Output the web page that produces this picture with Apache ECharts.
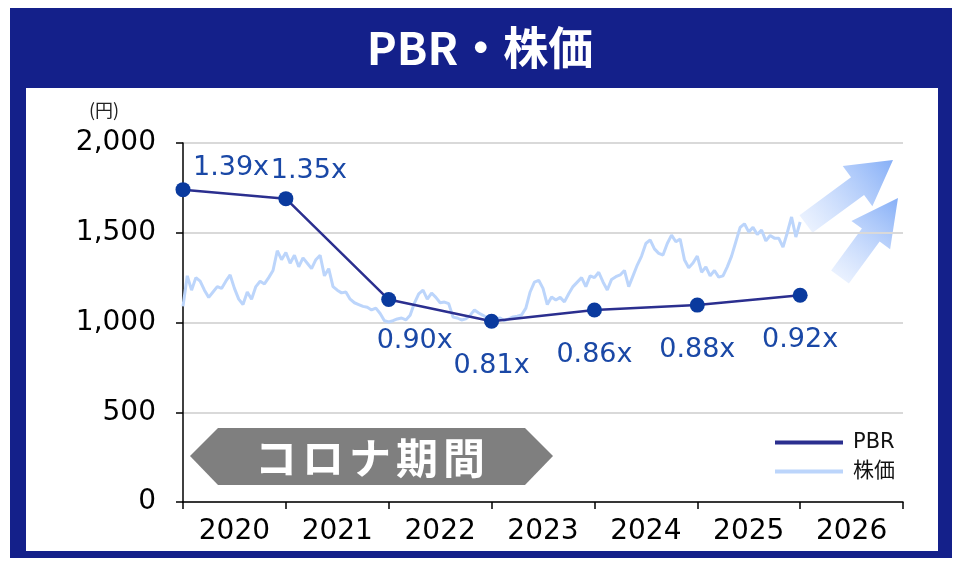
<html lang="ja">
<head>
<meta charset="UTF-8" />
<title>PBR・株価</title>
<script src="https://cdn.jsdelivr.net/npm/echarts@6/dist/echarts.min.js"></script>
<style>
  * { padding: 0; margin: 0; }
  body { background: #fff; }
</style>
</head>
<body>
<div id="main" style="width:960px;height:561px"></div>
<script>
// 年ラベル
var years = ["2020", "2021", "2022", "2023", "2024", "2025", "2026"]
// PBR（各年初の位置に打点、縦軸は円換算の高さ）
var pbrValues = [1740, 1690, 1128, 1007, 1070, 1097, 1152]
var pbrLabels = ["1.39x", "1.35x", "0.90x", "0.81x", "0.86x", "0.88x", "0.92x"]
// 株価（2020年1月から半月ごと）
var stockPrice = [
  1090, 1260, 1180, 1250, 1230, 1180, 1140, 1170, 1200, 1190, 1230, 1265,
  1190, 1130, 1100, 1170, 1130, 1200, 1230, 1215, 1250, 1290, 1400, 1350,
  1390, 1330, 1375, 1310, 1360, 1330, 1300, 1350, 1375, 1260, 1300, 1200,
  1180, 1165, 1170, 1130, 1110, 1100, 1090, 1085, 1070, 1080, 1050, 1010,
  1003, 1010, 1020, 1025, 1014, 1040, 1108, 1160, 1180, 1130, 1164, 1140,
  1110, 1114, 1105, 1030, 1025, 1014, 1020, 1040, 1070, 1053, 1040, 1025,
  1014, 1020, 1025, 1010, 1020, 1031, 1035, 1042, 1080, 1170, 1225, 1235,
  1190, 1100, 1142, 1125, 1140, 1115, 1160, 1200, 1225, 1250, 1200, 1260,
  1250, 1280, 1226, 1181, 1240, 1255, 1265, 1290, 1200, 1260, 1320, 1370,
  1440, 1460, 1410, 1385, 1376, 1440, 1487, 1450, 1465, 1350, 1305, 1331,
  1370, 1280, 1310, 1260, 1290, 1253, 1260, 1310, 1370, 1450, 1530, 1550,
  1505, 1530, 1490, 1515, 1455, 1485, 1470, 1470, 1420, 1500, 1588, 1476,
  1560
]
var labelOffsets = [[48, -22], [23, -28], [26, 41], [0, 45], [0, 45], [0, 45], [0, 45]]

var numFont = "DejaVu Sans"
var jpFont = "Noto Sans CJK JP"

function arrowShape(tx, ty, hx, hy, sw, hw, hl) {
  var dx = hx - tx, dy = hy - ty, L = Math.hypot(dx, dy)
  var ux = dx / L, uy = dy / L, px = -uy, py = ux
  var bx = hx - ux * hl, by = hy - uy * hl
  return [
    [tx + px * sw, ty + py * sw], [bx + px * sw, by + py * sw], [bx + px * hw, by + py * hw],
    [hx, hy],
    [bx - px * hw, by - py * hw], [bx - px * sw, by - py * sw], [tx - px * sw, ty - py * sw]
  ]
}

var myChart = echarts.init(document.getElementById("main"))

var arrowFill = new echarts.graphic.LinearGradient(0, 1, 1, 0, [
  { offset: 0, color: "rgba(235,242,255,0.7)" },
  { offset: 1, color: "#86aff7" }
])

var bannerChars = "コロナ期間".split("").map(function (c, i) {
  return {
    type: "text",
    left: 276 + i * 47 - 21,
    top: 437,
    style: { text: c, fill: "#fff", font: "bold 42px '" + jpFont + "'" }
  }
})

var option = {
  backgroundColor: "#fff",
  animation: false,
  graphic: [
    { type: "rect", z: -2, shape: { x: 10, y: 8, width: 942, height: 550 }, style: { fill: "#14208a" } },
    { type: "rect", z: -1, shape: { x: 26, y: 88, width: 912, height: 463 }, style: { fill: "#fff" } },
    {
      type: "text", left: "center", top: 25,
      style: { text: "PBR・株価", fill: "#fff", font: "bold 45px '" + jpFont + "'" }
    },
    {
      type: "text", left: 89, top: 101,
      style: { text: "(円)", fill: "#222", font: "18px '" + jpFont + "'" }
    },
    {
      type: "polygon",
      shape: { points: [[190, 456], [218, 428], [525, 428], [553, 456], [525, 485], [218, 485]] },
      style: { fill: "#7f7f7f" }
    }
  ].concat(bannerChars).concat([
    { type: "polygon", shape: { points: arrowShape(806, 224, 893, 160, 11, 25, 44) }, style: { fill: arrowFill } },
    { type: "polygon", shape: { points: arrowShape(840, 277, 898, 198, 11, 24, 46) }, style: { fill: arrowFill } }
  ]),
  legend: {
    orient: "vertical",
    left: 770,
    top: 427,
    itemWidth: 68,
    itemHeight: 4,
    itemGap: 8,
    textStyle: { fontSize: 21, color: "#111", fontFamily: numFont + ", " + jpFont, padding: [0, 0, 0, 5] },
    data: [
      { name: "PBR", icon: "rect", itemStyle: { color: "#2b2f8f" } },
      { name: "株価", icon: "rect", itemStyle: { color: "#bcd5fb" } }
    ]
  },
  grid: { left: 183, right: 57, top: 143, bottom: 59 },
  xAxis: [
    {
      type: "value",
      min: 0,
      max: 7,
      interval: 1,
      axisLine: { show: true, lineStyle: { color: "#000", width: 1.5 } },
      axisTick: { show: true, length: 7, lineStyle: { color: "#000", width: 1.5 } },
      axisLabel: { show: false },
      splitLine: { show: false }
    },
    {
      type: "category",
      position: "bottom",
      data: years,
      boundaryGap: true,
      axisLine: { show: false },
      axisTick: { show: false },
      axisLabel: { fontSize: 28, color: "#000", fontFamily: numFont, margin: 16 },
      splitLine: { show: false }
    }
  ],
  yAxis: {
    type: "value",
    min: 0,
    max: 2000,
    interval: 500,
    axisLine: { show: true, lineStyle: { color: "#000", width: 1.5 } },
    axisTick: { show: true, length: 7, lineStyle: { color: "#000", width: 1.5 } },
    axisLabel: {
      fontSize: 28, color: "#000", fontFamily: numFont, margin: 27,
      formatter: function (v) { return v.toLocaleString("en-US") }
    },
    splitLine: { show: true, lineStyle: { color: "#d9d9d9", width: 2 } }
  },
  series: [
    {
      name: "株価",
      type: "line",
      xAxisIndex: 0,
      showSymbol: false,
      z: 1,
      itemStyle: { color: "#bcd5fb" },
      lineStyle: { color: "#bcd5fb", width: 3 },
      data: stockPrice.map(function (v, i) { return [i / 24, v] })
    },
    {
      name: "PBR",
      type: "line",
      xAxisIndex: 0,
      symbol: "circle",
      symbolSize: 15,
      z: 3,
      itemStyle: { color: "#0a3a9e" },
      lineStyle: { color: "#2b2f8f", width: 2.5 },
      data: pbrValues.map(function (v, i) {
        return {
          value: [i, v],
          label: {
            show: true,
            position: "inside",
            offset: labelOffsets[i],
            formatter: pbrLabels[i],
            fontSize: 27,
            color: "#1a48a6",
            fontFamily: numFont
          }
        }
      })
    }
  ]
}

myChart.setOption(option)
</script>
</body>
</html>
